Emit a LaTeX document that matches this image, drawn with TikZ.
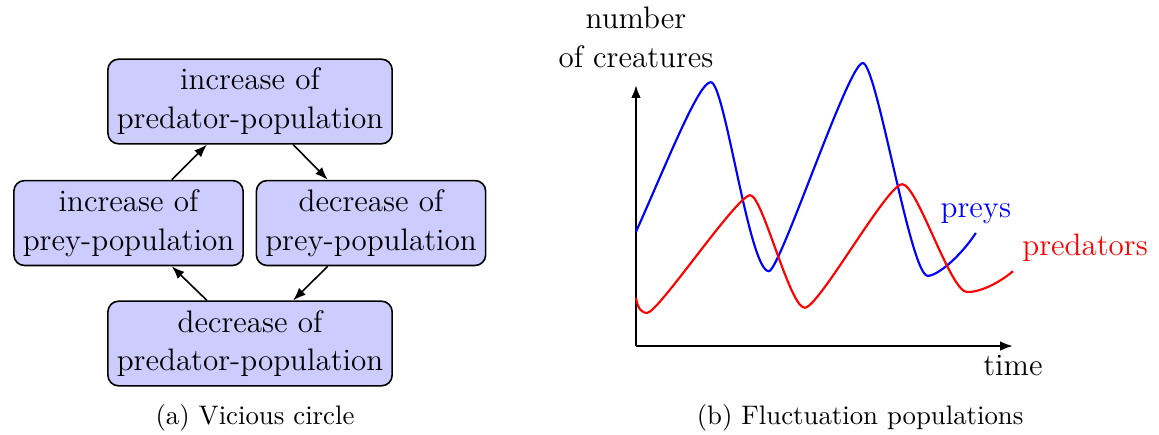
\documentclass[tikz,border=0pt]{standalone}
\usepackage{tikz}
\usetikzlibrary{arrows.meta}
\definecolor{popfill}{RGB}{204,204,255}

\begin{document}
\begin{tikzpicture}[font=\fontsize{11.6}{14.5}\selectfont,>={Latex[length=4.8pt,width=3.6pt]},
  popbox/.style={draw,semithick,rounded corners=4pt,fill=popfill,align=center},
  link/.style={->,semithick}]
\useasboundingbox (0,0) rectangle (15.2,5.692);
% (a) vicious circle
\node[popbox] (incpred) at (3.279,4.361) {increase of\\predator-population};
\node[popbox] (incprey) at (1.685,2.767) {increase of\\prey-population};
\node[popbox] (decprey) at (4.866,2.767) {decrease of\\prey-population};
\node[popbox] (decpred) at (3.279,1.187) {decrease of\\predator-population};
\draw[link] (incprey.45) -- (incpred.-135);
\draw[link] (incpred.-45) -- (decprey.135);
\draw[link] (decprey.-135) -- (decpred.45);
\draw[link] (decpred.135) -- (incprey.-45);
\node[font=\normalsize] (capa) at (3.344,0.21) {(a) Vicious circle};
% (b) fluctuation
\begin{scope}[shift={(8.341,1.154)},x=0.7606cm,y=0.7606cm]
\coordinate (orig) at (0,0);
\coordinate (xtip) at (6.5,0);
\coordinate (ytip) at (0,4.5);
\draw[thick,->] (orig) -- (xtip);
\draw[thick,->] (orig) -- (ytip);
\node[below] (xlbl) at (xtip) {time};
\node[above,align=center,yshift=3pt] (ylbl) at (ytip) {number\\of creatures};
\draw[blue,thick] (0,1.97) .. controls (.55,3.2) and (1.08,4.55) .. (1.29,4.55)
  .. controls (1.53,4.55) and (1.95,1.29) .. (2.29,1.29)
  .. controls (2.48,1.29) and (3.66,4.88) .. (3.91,4.88)
  .. controls (4.15,4.88) and (4.73,1.21) .. (5.03,1.21)
  .. controls (5.2,1.21) and (5.6,1.55) .. (5.86,1.95);
\draw[red,thick] (0,.83) .. controls (.03,.62) and (.12,.57) .. (.19,.57)
  .. controls (.38,.57) and (1.74,2.6) .. (1.97,2.6)
  .. controls (2.18,2.6) and (2.65,.66) .. (2.91,.66)
  .. controls (3.15,.66) and (4.33,2.79) .. (4.59,2.79)
  .. controls (4.85,2.79) and (5.42,.93) .. (5.71,.93)
  .. controls (5.97,.93) and (6.3,1.12) .. (6.5,1.29);
\coordinate (preyend) at (5.86,1.95);
\coordinate (predend) at (6.5,1.29);
\node[blue,above] (preylbl) at (preyend) {preys};
\node[red,above right] (predlbl) at (predend) {predators};
\end{scope}
\node[font=\normalsize] (capb) at (11.28,0.21) {(b) Fluctuation populations};
\end{tikzpicture}
\end{document}
